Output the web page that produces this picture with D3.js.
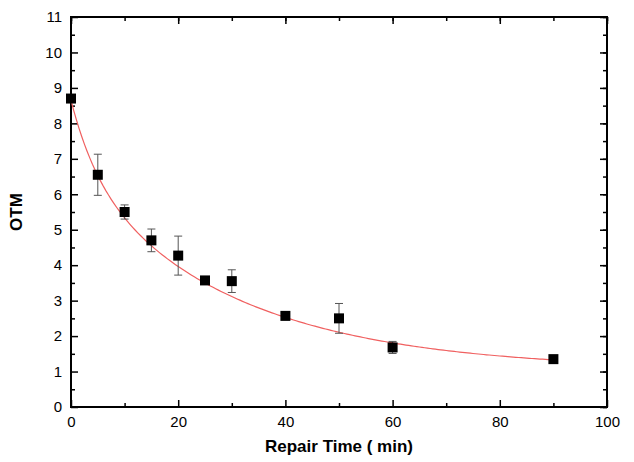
<!DOCTYPE html>
<html><head><meta charset="utf-8">
<script src="https://cdn.jsdelivr.net/npm/d3@7"></script>
<style>body{margin:0;background:#fff}svg{font-family:"Liberation Sans",Arial,sans-serif}</style>
</head><body><div id="vis"></div>
<script>
const WIDTH = 634, HEIGHT = 462;
const MARGINS = {left: 71, right: 27, top: 17, bottom: 55};
const VIS_WIDTH = WIDTH - MARGINS.left - MARGINS.right;
const VIS_HEIGHT = HEIGHT - MARGINS.top - MARGINS.bottom;

const times = [0, 5, 10, 15, 20, 25, 30, 40, 50, 60, 90];
const otm = [8.7, 6.55, 5.5, 4.7, 4.27, 3.57, 3.55, 2.57, 2.5, 1.68, 1.35];
const errs = [0, 0.58, 0.2, 0.32, 0.55, 0.08, 0.32, 0.07, 0.42, 0.17, 0.05];
// fitted decay: y0 + A1 exp(-x/t1) + A2 exp(-x/t2)
const fit = {y0: 1.05, a1: 2.0, t1: 5, a2: 5.6, t2: 30};

const FRAME = d3.select("#vis").append("svg").attr("width", WIDTH).attr("height", HEIGHT);
const g = FRAME.append("g").attr("transform", `translate(${MARGINS.left},${MARGINS.top})`);

const X_SCALE = d3.scaleLinear().domain([0, 100]).range([0, VIS_WIDTH]);
const Y_SCALE = d3.scaleLinear().domain([0, 11]).range([VIS_HEIGHT, 0]);

function axis(ax) {
  return (sel) => {
    sel.call(ax.tickSizeInner(-7).tickSizeOuter(0).tickPadding(9));
    sel.selectAll("text").attr("font-size", 15).attr("fill", "#000");
  };
}
g.append("g").attr("transform", `translate(0,${VIS_HEIGHT})`)
  .call(axis(d3.axisBottom(X_SCALE).ticks(5)));
g.append("g").call(axis(d3.axisLeft(Y_SCALE).ticks(11)));
// minor ticks
g.append("g").attr("transform", `translate(0,${VIS_HEIGHT})`)
  .call(d3.axisBottom(X_SCALE).tickValues(d3.range(10, 100, 20)).tickSize(-4).tickFormat(""));
g.append("g")
  .call(d3.axisTop(X_SCALE).tickValues(d3.range(0, 101, 10)).tickSize(-4).tickFormat(""));
g.append("g")
  .call(d3.axisTop(X_SCALE).tickValues(d3.range(0, 101, 20)).tickSize(-7).tickFormat(""));
g.append("g").call(d3.axisLeft(Y_SCALE).tickValues(d3.range(0.5, 11, 1)).tickSize(-4).tickFormat(""));
g.append("g").attr("transform", `translate(${VIS_WIDTH},0)`)
  .call(d3.axisRight(Y_SCALE).tickValues(d3.range(0, 11.01, 0.5)).tickSize(-4).tickFormat(""));
g.append("g").attr("transform", `translate(${VIS_WIDTH},0)`)
  .call(d3.axisRight(Y_SCALE).ticks(11).tickSize(-7).tickFormat(""));
g.selectAll(".domain").remove();
g.selectAll(".tick line").attr("stroke", "#000").attr("stroke-width", 1.5);
g.append("rect").attr("width", VIS_WIDTH).attr("height", VIS_HEIGHT)
  .attr("fill", "none").attr("stroke", "#000").attr("stroke-width", 2);

// fit curve
const xs = d3.range(0, 90.01, 0.5);
g.append("path").datum(xs)
  .attr("fill", "none").attr("stroke", "#f06060").attr("stroke-width", 1.2)
  .attr("d", d3.line().x(d => X_SCALE(d))
    .y(d => Y_SCALE(fit.y0 + fit.a1 * Math.exp(-d / fit.t1) + fit.a2 * Math.exp(-d / fit.t2))));

// error bars
const eb = g.append("g").attr("stroke", "#555").attr("stroke-width", 1);
times.forEach((t, i) => {
  if (!errs[i]) return;
  const x = X_SCALE(t), y1 = Y_SCALE(otm[i] - errs[i]), y2 = Y_SCALE(otm[i] + errs[i]);
  eb.append("line").attr("x1", x).attr("x2", x).attr("y1", y1).attr("y2", y2);
  [y1, y2].forEach(y => eb.append("line").attr("x1", x - 4).attr("x2", x + 4).attr("y1", y).attr("y2", y));
});

g.selectAll(".pt").data(times).enter().append("rect")
  .attr("x", d => X_SCALE(d) - 5).attr("y", (d, i) => Y_SCALE(otm[i]) - 5)
  .attr("width", 10).attr("height", 10).attr("fill", "#000");

FRAME.append("text").attr("x", MARGINS.left + VIS_WIDTH / 2).attr("y", 452)
  .attr("text-anchor", "middle").attr("font-size", 17).attr("font-weight", "bold")
  .text("Repair Time ( min)");
FRAME.append("text").attr("transform", `translate(22,${MARGINS.top + VIS_HEIGHT / 2}) rotate(-90)`)
  .attr("text-anchor", "middle").attr("font-size", 17).attr("font-weight", "bold").text("OTM");
</script></body></html>
